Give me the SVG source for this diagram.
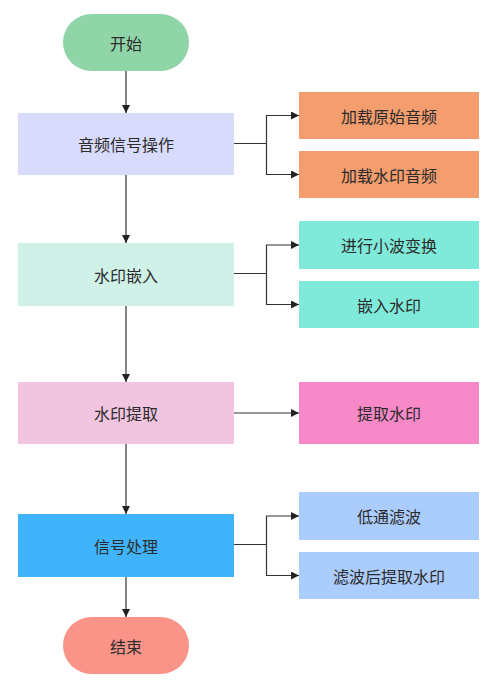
<svg xmlns="http://www.w3.org/2000/svg" width="500" height="691" viewBox="0 0 500 691">
<defs>
<marker id="arr" viewBox="0 0 10 10" refX="10" refY="5" markerWidth="8" markerHeight="8" markerUnits="userSpaceOnUse" orient="auto">
<path d="M0,0 L10,5 L0,10 z" fill="#222"/>
</marker>
<style>
text{font-family:"Noto Sans CJK SC","Noto Sans",sans-serif;font-size:16px;fill:#2b2b2b;text-anchor:middle;dominant-baseline:central}
.c{fill:none;stroke:#333;stroke-width:1.2}
.a{marker-end:url(#arr)}
</style>
</defs>
<rect width="500" height="691" fill="#fff"/>
<g id="start"><rect x="63" y="14" width="126" height="57" rx="28.5" fill="#8FD5A8"/><text x="126" y="43">开始</text></g>
<g id="audio"><rect x="18" y="113" width="216" height="62" fill="#D9DBFD"/><text x="126" y="144">音频信号操作</text></g>
<g id="embed"><rect x="18" y="243" width="216" height="63" fill="#CFF1E7"/><text x="126" y="275">水印嵌入</text></g>
<g id="extract"><rect x="18" y="382" width="216" height="62" fill="#F1C4DF"/><text x="126" y="413">水印提取</text></g>
<g id="process"><rect x="18" y="514" width="216" height="63" fill="#40B4FB"/><text x="126" y="546">信号处理</text></g>
<g id="end"><rect x="63" y="617" width="126" height="57" rx="28.5" fill="#FA9489"/><text x="126" y="646">结束</text></g>
<g id="loadOrig"><rect x="299" y="92" width="180" height="47" fill="#F49D6E"/><text x="389" y="116">加载原始音频</text></g>
<g id="loadWm"><rect x="299" y="151" width="180" height="47" fill="#F49D6E"/><text x="389" y="175">加载水印音频</text></g>
<g id="wavelet"><rect x="299" y="221" width="180" height="48" fill="#7FEAD9"/><text x="389" y="245">进行小波变换</text></g>
<g id="embedWm"><rect x="299" y="281" width="180" height="47" fill="#7FEAD9"/><text x="389" y="305">嵌入水印</text></g>
<g id="extractWm"><rect x="299" y="382" width="180" height="62" fill="#F889C9"/><text x="389" y="413">提取水印</text></g>
<g id="lowpass"><rect x="299" y="492" width="180" height="48" fill="#ABCDFD"/><text x="389" y="516">低通滤波</text></g>
<g id="filtExtract"><rect x="299" y="552" width="180" height="47" fill="#ABCDFD"/><text x="389" y="576">滤波后提取水印</text></g>
<g id="connectors">
<path class="c a" d="M126,71 V113"/>
<path class="c a" d="M126,175 V243"/>
<path class="c a" d="M126,306 V382"/>
<path class="c a" d="M126,444 V514"/>
<path class="c a" d="M126,577 V617"/>
<path class="c" d="M234,143.5 H266.5"/>
<path class="c a" d="M266.5,143.5 V115.5 H299"/>
<path class="c a" d="M266.5,143.5 V174.5 H299"/>
<path class="c" d="M234,273.5 H266.5"/>
<path class="c a" d="M266.5,273.5 V245 H299"/>
<path class="c a" d="M266.5,273.5 V304.5 H299"/>
<path class="c a" d="M234,413 H299"/>
<path class="c" d="M234,544.5 H266.5"/>
<path class="c a" d="M266.5,544.5 V516 H299"/>
<path class="c a" d="M266.5,544.5 V575.5 H299"/>
</g>
</svg>
